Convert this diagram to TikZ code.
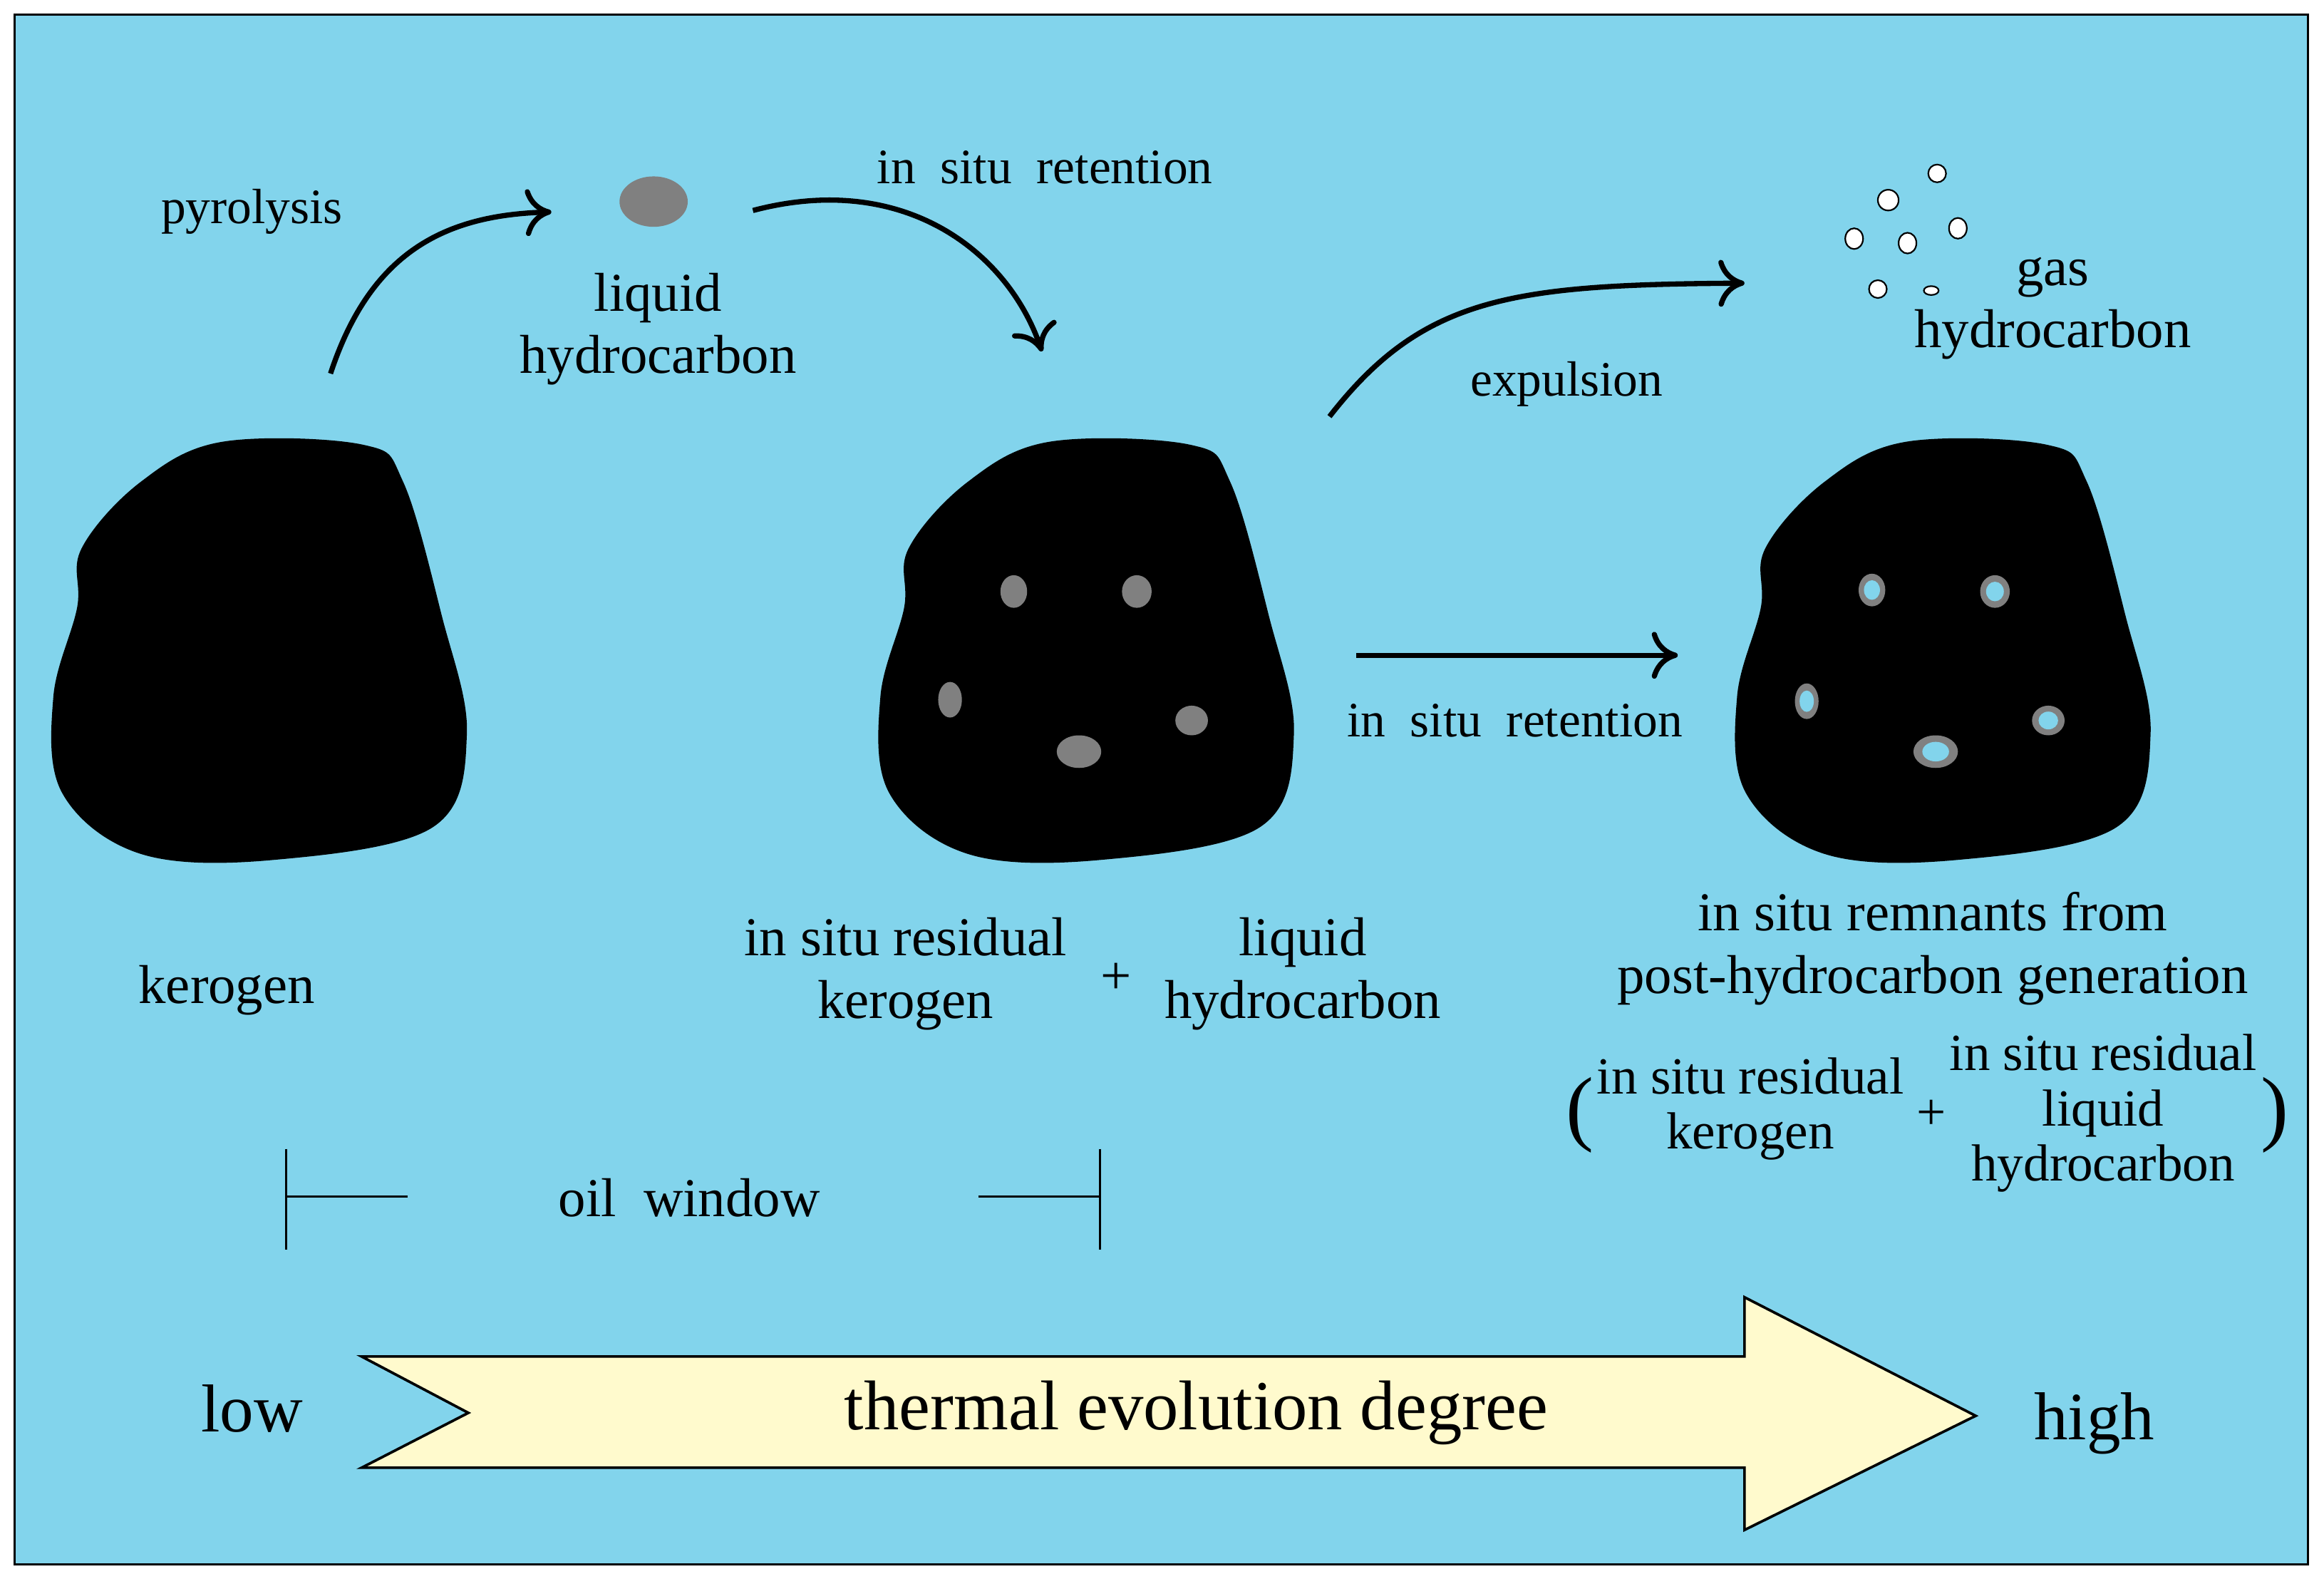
\documentclass[tikz,border=0pt]{standalone}
\usepackage{fontspec}
\setmainfont{Liberation Serif}
\usetikzlibrary{arrows.meta}
\definecolor{bg}{RGB}{130,212,236}
\definecolor{yel}{RGB}{255,250,205}
\definecolor{hole}{RGB}{128,128,128}
\begin{document}
\begin{tikzpicture}[x=0.01cm,y=-0.01cm,
  lab/.style={font=\fontsize{10.5}{12}\selectfont,align=center,inner sep=0},
  labs/.style={font=\fontsize{10}{10.6}\selectfont,align=center,inner sep=0},
  small/.style={font=\fontsize{9.5}{11}\selectfont,inner sep=0},
  arr/.style={line width=1pt,-{To[length=5pt,width=9pt,line width=1pt]}},
  thin/.style={line width=0.4pt}]
\useasboundingbox (0,0) rectangle (1568,1065);
\draw[fill=bg,line width=0.4pt] (10,10) rectangle (1557,1055);
\def\blob{plot[smooth cycle,tension=0.6] coordinates{(150,298) (245,300) (272,325) (298,415) (315,495) (292,558) (185,580) (95,576) (42,535) (36,470) (52,410) (55,370) (95,325)}}
\foreach \dx in {0,558,1136}{
  \fill[black,xshift=\dx*0.01cm] \blob;
}
\foreach \p/\a/\b in {{(684,399)}/9/11,{(767,399)}/10/11,{(641,472)}/8/12,{(728,507)}/15/11,{(804,486)}/11/10}
  \fill[hole] \p ellipse (\a*0.01cm and \b*0.01cm);
\foreach \p/\a/\b in {{(1263,398)}/9/11,{(1346,399)}/10/11,{(1219,473)}/8/12,{(1306,507)}/15/11,{(1382,486)}/11/10}{
  \fill[hole] \p ellipse (\a*0.01cm and \b*0.01cm);
  \fill[bg] \p ellipse (\a*0.006cm and \b*0.006cm);}
\fill[hole] (441,136) ellipse (0.23cm and 0.17cm);
\foreach \p/\a/\b in {{(1307,117)}/6/6,{(1274,135)}/7/7,{(1251,161)}/6/7,{(1287,164)}/6/7,{(1321,154)}/6/7,{(1267,195)}/6/6,{(1303,196)}/5/3}
  \draw[fill=white,line width=0.3pt] \p ellipse (\a*0.01cm and \b*0.01cm);
\coordinate (a1s) at (223,252); \coordinate (a1e) at (372,143);
\coordinate (a2s) at (508,142); \coordinate (a2e) at (703,237);
\coordinate (a3s) at (897,281); \coordinate (a3e) at (1177,191);
\coordinate (a4s) at (915,442); \coordinate (a4e) at (1132,442);
\draw[arr] (a1s) .. controls (250,170) and (300,145) .. (a1e);
\draw[arr] (a2s) .. controls (610,115) and (680,170) .. (a2e);
\draw[arr] (a3s) .. controls (960,200) and (1020,192) .. (a3e);
\draw[arr] (a4s) -- (a4e);
\coordinate (ow1) at (193,775); \coordinate (ow2) at (193,843);
\coordinate (ow3) at (742,775); \coordinate (ow4) at (742,843);
\coordinate (ow5) at (275,807); \coordinate (ow6) at (660,807);
\draw[thin] (ow1) -- (ow2); \draw[thin] (ow3) -- (ow4);
\draw[thin] (193,807) -- (ow5); \draw[thin] (ow6) -- (742,807);
\node[lab] (ow) at (465,808) {oil\ \ window};
\draw[fill=yel,line width=0.5pt] (244,915) -- (1177,915) -- (1177,875) -- (1333,955) -- (1177,1032) -- (1177,990) -- (244,990) -- (316,953) -- cycle;
\node[font=\fontsize{13.5}{15}\selectfont] (th) at (807,953) {thermal evolution degree};
\node[font=\fontsize{13}{15}\selectfont] (low) at (170,950) {low};
\node[font=\fontsize{13}{15}\selectfont] (high) at (1413,960) {high};
\node[small] (pyr) at (170,143) {pyrolysis};
\node[lab] (lh) at (444,222) {liquid\\hydrocarbon};
\node[small] (isr1) at (705,113) {in\ \ situ\ \ retention};
\node[small] (exp) at (1057,259) {expulsion};
\node[lab] (gas) at (1385,208) {gas\\hydrocarbon};
\node[small] (isr2) at (1022,486) {in\ \ situ\ \ retention};
\node[lab] (ker) at (153,668) {kerogen};
\node[lab] (rk) at (611,657) {in situ residual\\kerogen};
\node[lab] (plus1) at (753,660) {+};
\node[lab] (lh2) at (879,657) {liquid\\hydrocarbon};
\node[lab] (rem) at (1304,640) {in situ remnants from\\post-hydrocarbon generation};
\node[font=\fontsize{16}{18}\selectfont,inner sep=0] (lp) at (1066,752) {(};
\node[labs] (rk2) at (1181,748) {in situ residual\\kerogen};
\node[labs] (plus2) at (1303,752) {+};
\node[labs] (rl) at (1419,751) {in situ residual\\liquid\\hydrocarbon};
\node[font=\fontsize{16}{18}\selectfont,inner sep=0] (rp) at (1535,752) {)};
\end{tikzpicture}
\end{document}
